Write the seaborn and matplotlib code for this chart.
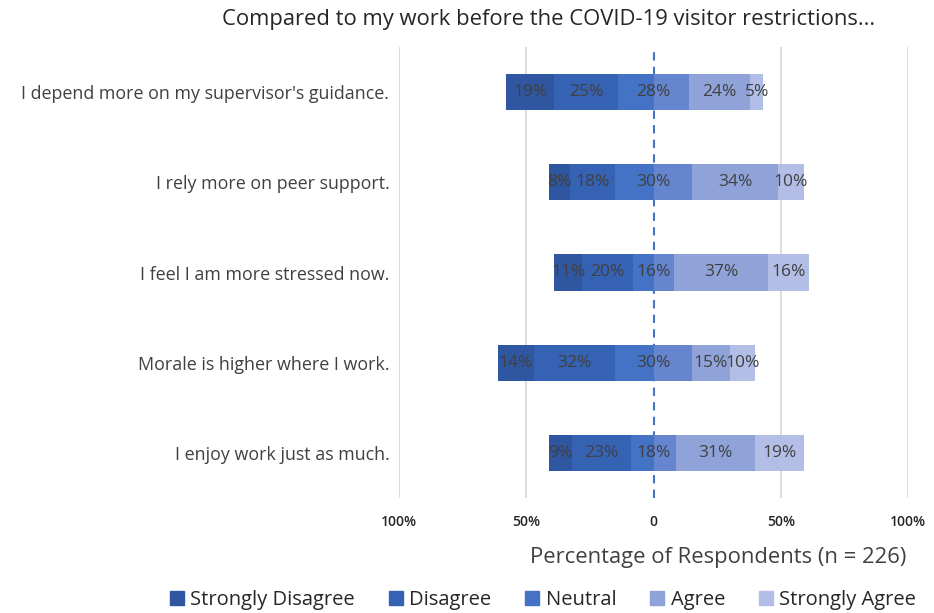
import numpy as np
import pandas as pd
import matplotlib
matplotlib.use("Agg")
import matplotlib.pyplot as plt
from matplotlib.patches import Patch
import seaborn as sns

statements = [
    "I depend more on my supervisor's guidance.",
    "I rely more on peer support.",
    "I feel I am more stressed now.",
    "Morale is higher where I work.",
    "I enjoy work just as much.",
]
strongly_disagree = [19, 8, 11, 14, 9]
disagree = [25, 18, 20, 32, 23]
neutral = [28, 30, 16, 30, 18]
agree = [24, 34, 37, 15, 31]
strongly_agree = [5, 10, 16, 10, 19]
levels = ["Strongly Disagree", "Disagree", "Neutral", "Agree", "Strongly Agree"]
tick_vals = [-100, -50, 0, 50, 100]
tick_labels = ["100%", "50%", "0", "50%", "100%"]

c_sd = "#2f56a0"
c_d = "#3662b3"
c_nl = "#4472c4"
c_nr = "#6585cf"
c_a = "#8fa3d9"
c_sa = "#b2bee6"
txt = "#404040"

sns.set_theme(style="white")
plt.rcParams["font.family"] = ["Open Sans", "DejaVu Sans"]

fig = plt.figure(figsize=(9.34, 6.13), dpi=100)
ax = fig.add_axes([399 / 934, 1 - 498 / 613, (908 - 399) / 934, (498 - 47) / 613])

sd = np.array(strongly_disagree)
d = np.array(disagree)
n = np.array(neutral)
a = np.array(agree)
sa = np.array(strongly_agree)

# gridlines
for v in [-100, -50, 50, 100]:
    ax.axvline(v, color="#d9d9d9", lw=1.3, zorder=0)

layers = [
    (-(sd + d + n / 2), c_sd),
    (-(d + n / 2), c_d),
    (-(n / 2), c_nl),
    (n / 2 + a + sa, c_sa),
    (n / 2 + a, c_a),
    (n / 2, c_nr),
]
for vals, col in layers:
    df = pd.DataFrame({"statement": statements, "value": vals})
    sns.barplot(data=df, y="statement", x="value", orient="h", color=col,
                width=0.4, saturation=1, ax=ax, zorder=2, linewidth=0,
                edgecolor=col)

ax.axvline(0, color="#4472c4", lw=1.5, ls=(0, (4, 3)), zorder=1)

# labels
for i in range(len(statements)):
    centers = [
        -(d[i] + n[i] / 2) - sd[i] / 2,
        -(n[i] / 2) - d[i] / 2,
        0,
        n[i] / 2 + a[i] / 2,
        n[i] / 2 + a[i] + sa[i] / 2,
    ]
    vals = [sd[i], d[i], n[i], a[i], sa[i]]
    for cx, v in zip(centers, vals):
        ax.text(cx, i, f"{v}%", ha="center", va="center", fontsize=12.5,
                color=txt, zorder=4)

ax.set_xlim(-100, 100)
ax.set_ylim(4.5, -0.5)
ax.set_xticks(tick_vals)
ax.set_xticklabels(tick_labels, fontsize=10, color="#262626", fontweight="semibold")
ax.tick_params(axis="x", length=0, pad=12)
ax.tick_params(axis="y", length=0, pad=7)
for lbl in ax.get_yticklabels():
    lbl.set_fontsize(12.9)
    lbl.set_color(txt)
ax.set_xlabel("")
ax.set_ylabel("")
for s in ax.spines.values():
    s.set_visible(False)

fig.text(549 / 934, 1 - 20 / 613, "Compared to my work before the COVID-19 visitor restrictions...",
         ha="center", va="center", fontsize=15.8, color="#262626")
fig.text(718 / 934, 1 - 557 / 613, "Percentage of Respondents (n = 226)",
         ha="center", va="center", fontsize=15.8, color="#404040")

handles = [Patch(color=c) for c in [c_sd, c_d, c_nl, c_a, c_sa]]
fig.legend(handles, levels, loc="center", bbox_to_anchor=(543 / 934, 1 - 600 / 613),
           ncol=5, frameon=False, fontsize=14.5, handlelength=0.7, handleheight=0.7,
           handletextpad=0.3, columnspacing=1.7, labelcolor="#262626")

fig.savefig("out.png", dpi=100)
